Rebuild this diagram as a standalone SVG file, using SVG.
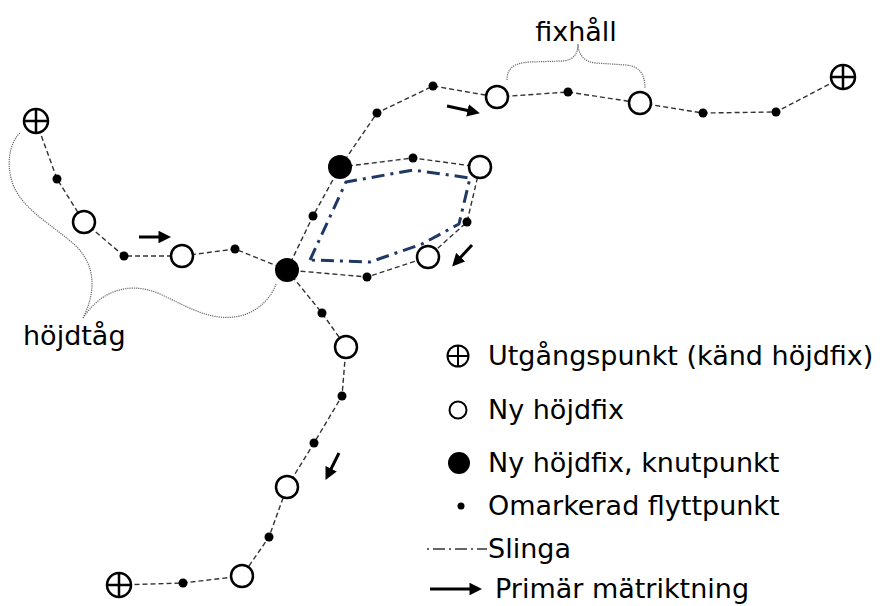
<svg xmlns="http://www.w3.org/2000/svg" width="885" height="606" viewBox="0 0 885 606">
<style>
.lbl{font-family:"DejaVu Sans","Liberation Sans",sans-serif;font-size:27px;fill:#000}
.dash{fill:none;stroke:#333;stroke-width:1.4;stroke-dasharray:5 3}
.loop{fill:none;stroke:#1f3864;stroke-width:3;stroke-dasharray:13 6 3 6;stroke-linejoin:round}
.brace{fill:none;stroke:#666;stroke-width:1.2;stroke-dasharray:1.2 1}
.fix{fill:#fff;stroke:#000;stroke-width:2.5}
.knut{fill:#000}
.pt{fill:#000}
.bm{fill:#fff;stroke:#000;stroke-width:2.5}
.bmx{stroke:#000;stroke-width:2.5}
.arr{stroke:#000;stroke-width:3;fill:none}
</style>
<defs>
<marker id="ah" viewBox="0 0 10 10" refX="2" refY="5" markerWidth="4.2" markerHeight="4.2" markerUnits="strokeWidth" orient="auto">
<path d="M0,0 L10,5 L0,10 Z" fill="#000"/>
</marker>
</defs>

<g id="connectors">
<path class="dash" d="M36,121 L57,179 L84,222 L124,256 L182,256 L235,249 L287,270"/>
<path class="dash" d="M287,270 L313,216 L340,167"/>
<path class="dash" d="M340,167 L377,113 L433,86 L497,97 L568,92 L640,103 L703,113 L776,112 L843,77"/>
<path class="dash" d="M340,167 L413,158 L480,167 L467,222 L428,257 L367,277 L287,270"/>
<path class="dash" d="M287,270 L322,313 L346,347 L342,396 L314,443 L287,487 L269,537 L242,576 L183,583 L119,585"/>
<path class="loop" d="M310,260 L346,182 L413,170 L470,178 L459,224 L422,244 L370,262 Z"/>
<path class="brace" d="M83,318 C96,292 96,266 76,246 C52,224 18,208 11,178 C6,158 12,140 20,133"/>
<path class="brace" d="M83,318 C100,292 128,280 160,294 C190,308 212,322 240,316 C260,311 272,296 276,284"/>
<path class="brace" d="M507,80 C507,68 514,63 530,62 L563,61 C574,60 578,53 578,44 C578,53 583,62 596,63 L626,65 C640,66 645,75 645,88"/>
<path class="arr" d="M139,237 L161,237" marker-end="url(#ah)"/>
<path class="arr" d="M447,106 L470,111" marker-end="url(#ah)"/>
<path class="arr" d="M472,245 L459,259" marker-end="url(#ah)"/>
<path class="arr" d="M339,453 L330,471" marker-end="url(#ah)"/>
</g>

<g id="start-nw"><circle class="bm" cx="36" cy="121" r="12"/><path class="bmx" d="M24,121 H48 M36,109 V133"/></g>
<g id="start-ne"><circle class="bm" cx="843" cy="77" r="12"/><path class="bmx" d="M831,77 H855 M843,65 V89"/></g>
<g id="start-s"><circle class="bm" cx="119" cy="585" r="12"/><path class="bmx" d="M107,585 H131 M119,573 V597"/></g>

<g id="knut-1"><circle class="knut" cx="287" cy="270" r="12"/></g>
<g id="knut-2"><circle class="knut" cx="340" cy="167" r="12"/></g>

<g id="fix-1"><circle class="fix" cx="84" cy="222" r="11"/></g>
<g id="fix-2"><circle class="fix" cx="182" cy="256" r="11"/></g>
<g id="fix-3"><circle class="fix" cx="497" cy="97" r="11"/></g>
<g id="fix-4"><circle class="fix" cx="640" cy="103" r="11"/></g>
<g id="fix-5"><circle class="fix" cx="480" cy="167" r="11"/></g>
<g id="fix-6"><circle class="fix" cx="428" cy="257" r="11"/></g>
<g id="fix-7"><circle class="fix" cx="346" cy="347" r="11"/></g>
<g id="fix-8"><circle class="fix" cx="287" cy="487" r="11"/></g>
<g id="fix-9"><circle class="fix" cx="242" cy="576" r="11"/></g>

<g id="flyttpunkter">
<circle class="pt" cx="57" cy="179" r="4.5"/>
<circle class="pt" cx="124" cy="256" r="4.5"/>
<circle class="pt" cx="235" cy="249" r="4.5"/>
<circle class="pt" cx="313" cy="216" r="4.5"/>
<circle class="pt" cx="377" cy="113" r="4.5"/>
<circle class="pt" cx="433" cy="86" r="4.5"/>
<circle class="pt" cx="568" cy="92" r="4.5"/>
<circle class="pt" cx="703" cy="113" r="4.5"/>
<circle class="pt" cx="776" cy="112" r="4.5"/>
<circle class="pt" cx="413" cy="158" r="4.5"/>
<circle class="pt" cx="467" cy="222" r="4.5"/>
<circle class="pt" cx="367" cy="277" r="4.5"/>
<circle class="pt" cx="322" cy="313" r="4.5"/>
<circle class="pt" cx="342" cy="396" r="4.5"/>
<circle class="pt" cx="314" cy="443" r="4.5"/>
<circle class="pt" cx="269" cy="537" r="4.5"/>
<circle class="pt" cx="183" cy="583" r="4.5"/>
</g>

<g id="label-hojdtag"><text class="lbl" x="23" y="345">höjdtåg</text></g>
<g id="label-fixhall"><text class="lbl" x="576" y="41" text-anchor="middle">fixhåll</text></g>

<g id="legend">
<g id="leg-start"><circle cx="458" cy="356" r="10.5" fill="#fff" stroke="#000" stroke-width="2"/><path d="M447.5,356 H468.5 M458,345.5 V366.5" stroke="#000" stroke-width="2"/><text class="lbl" x="488" y="365">Utgångspunkt (känd höjdfix)</text></g>
<g id="leg-fix"><circle cx="458" cy="410" r="8.5" fill="#fff" stroke="#000" stroke-width="2"/><text class="lbl" x="488" y="419">Ny höjdfix</text></g>
<g id="leg-knut"><circle cx="459" cy="463" r="11" fill="#000"/><text class="lbl" x="488" y="472">Ny höjdfix, knutpunkt</text></g>
<g id="leg-pt"><circle cx="461" cy="506" r="3.5" fill="#000"/><text class="lbl" x="488" y="515">Omarkerad flyttpunkt</text></g>
<g id="leg-loop"><path d="M427,549 H487" stroke="#333" stroke-width="1.3" stroke-dasharray="2 4 12 4"/><text class="lbl" x="488" y="558">Slinga</text></g>
<g id="leg-arrow"><path class="arr" d="M430,589 L472,589" marker-end="url(#ah)"/><text class="lbl" x="495" y="598">Primär mätriktning</text></g>
</g>
</svg>
